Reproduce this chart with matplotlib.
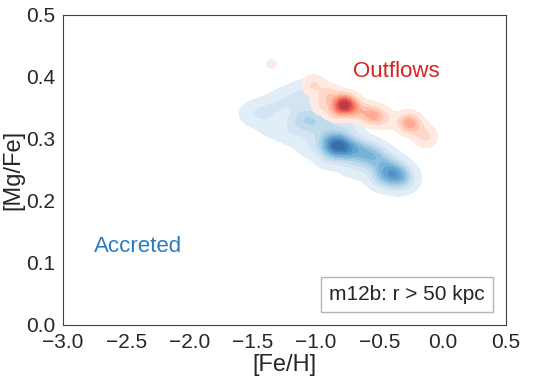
import matplotlib
matplotlib.use("Agg")
import matplotlib.pyplot as plt
import numpy as np
import seaborn as sns
from matplotlib.offsetbox import AnchoredText

# sample points with weights
acc_feh = [-1.50, -1.40, -1.30, -1.20, -1.10, -1.00, -1.35, -1.20, -1.05, -0.90,
           -0.70, -0.50, -1.12, -1.05, -1.00, -0.90, -0.75, -0.88, -0.83, -0.75,
           -0.65, -0.55, -0.45, -0.37, -0.32, -0.45]
acc_mgfe = [0.340, 0.345, 0.355, 0.365, 0.375, 0.375, 0.320, 0.310, 0.290, 0.270,
            0.255, 0.240, 0.330, 0.340, 0.320, 0.330, 0.320, 0.295, 0.288, 0.285,
            0.280, 0.272, 0.258, 0.243, 0.235, 0.240]
acc_w = [1, 1, 1, 1, 1, 0.8, 0.8, 1, 1, 1,
         1, 1, 2, 1.5, 2, 1.5, 1.5, 4, 6, 4,
         3.5, 4, 3, 4.5, 2.5, 2]

out_feh = [-1.37, -1.33, -1.02, -0.90, -0.78, -0.72, -0.84, -0.55, -0.45, -0.27,
           -0.20, -0.13, -0.65, -0.95]
out_mgfe = [0.421, 0.421, 0.387, 0.372, 0.356, 0.350, 0.345, 0.338, 0.332, 0.326,
            0.318, 0.303, 0.345, 0.355]
out_w = [0.2, 0.2, 1.2, 1.5, 7, 2, 1.5, 3, 1, 3,
         1, 1.2, 1.5, 1]

sns.set_style("white")
plt.rcParams["font.family"] = ["Liberation Sans", "DejaVu Sans"]

gx, gy = np.meshgrid(np.linspace(-1.9, 0.2, 300), np.linspace(0.15, 0.48, 300))


def density(xs, ys, ws, bx, by):
    z = np.zeros_like(gx)
    for x0, y0, w in zip(xs, ys, ws):
        z += w * np.exp(-0.5 * (((gx - x0) / bx) ** 2 + ((gy - y0) / by) ** 2))
    return z / z.max()


def faded(name, lo, hi, n=10, a=0.8):
    c = plt.get_cmap(name)(np.linspace(lo, hi, n))[:, :3]
    return 1 - a * (1 - c)


fig = plt.figure(figsize=(5.38, 3.84), dpi=100)
ax = fig.add_axes([0.117, 0.154, 0.823, 0.807])

z_acc = density(acc_feh, acc_mgfe, acc_w, 0.075, 0.013)
z_out = density(out_feh, out_mgfe, out_w, 0.055, 0.010)
lev = np.linspace(0.035, 1.0, 11)
ax.contourf(gx, gy, z_acc, levels=lev, colors=faded("Blues", 0.15, 0.9))
ax.contourf(gx, gy, z_out, levels=lev, colors=faded("Reds", 0.1, 0.88))

ax.text(-2.755, 0.118, "Accreted", color="#2a7bc0", fontsize=16)
ax.text(-0.71, 0.40, "Outflows", color="#d62320", fontsize=16)

at = AnchoredText("m12b: r > 50 kpc", loc="lower right", prop=dict(size=15),
                  frameon=True, borderpad=0.6)
at.patch.set_edgecolor("0.7")
ax.add_artist(at)

ax.set_xlim(-3.0, 0.5)
ax.set_ylim(0.0, 0.5)
ax.set_xlabel("[Fe/H]", fontsize=17, labelpad=2)
ax.set_ylabel("[Mg/Fe]", fontsize=17, labelpad=1)
ax.tick_params(labelsize=15, pad=2)
for s in ax.spines.values():
    s.set_color("0.25")

fig.savefig("out.png")
